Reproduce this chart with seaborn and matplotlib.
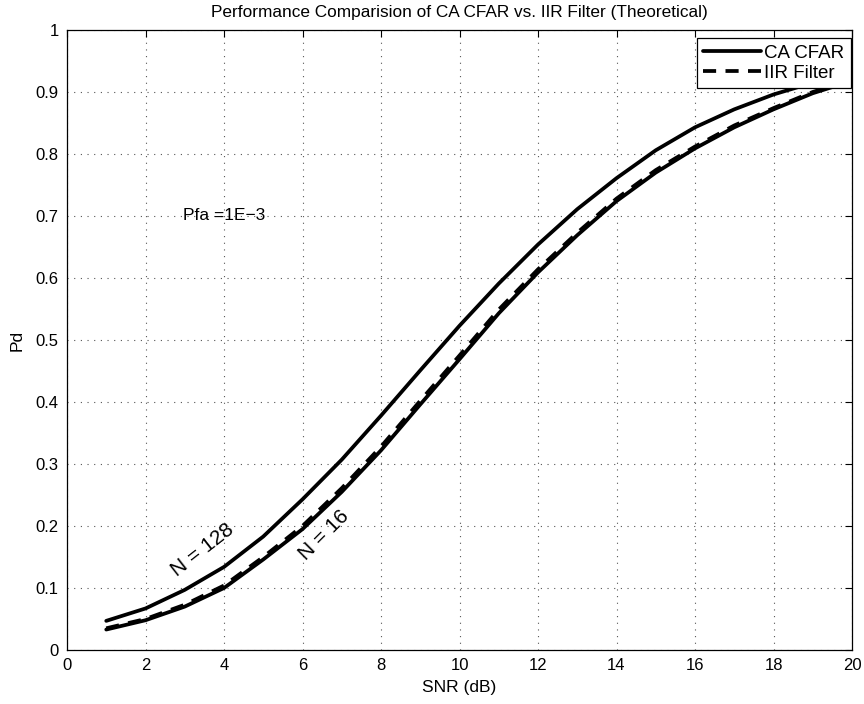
import matplotlib
matplotlib.use("Agg")
import matplotlib.pyplot as plt
import seaborn as sns
import pandas as pd
from matplotlib.lines import Line2D

snr_db = [1, 2, 3, 4, 5, 6, 7, 8, 9, 10, 11, 12, 13, 14, 15, 16, 17, 18, 19, 20]
cfar_n128 = [0.047, 0.067, 0.097, 0.134, 0.183, 0.243, 0.307, 0.378, 0.451, 0.523,
             0.591, 0.654, 0.711, 0.761, 0.806, 0.843, 0.872, 0.896, 0.915, 0.931]
cfar_n16 = [0.033, 0.048, 0.070, 0.100, 0.146, 0.195, 0.255, 0.322, 0.396, 0.469,
            0.543, 0.609, 0.669, 0.724, 0.770, 0.809, 0.843, 0.872, 0.898, 0.918]
iir_n16 = [0.035, 0.050, 0.073, 0.104, 0.150, 0.200, 0.261, 0.328, 0.402, 0.475,
           0.549, 0.614, 0.673, 0.728, 0.774, 0.812, 0.846, 0.874, 0.900, 0.920]

df = pd.DataFrame({"SNR": snr_db, "CA128": cfar_n128, "CA16": cfar_n16, "IIR16": iir_n16})

sns.set_style("white")
plt.rcParams["font.family"] = ["Liberation Sans", "DejaVu Sans"]
plt.rcParams["text.color"] = "black"
plt.rcParams["axes.labelcolor"] = "black"
plt.rcParams["xtick.color"] = "black"
plt.rcParams["ytick.color"] = "black"

fig = plt.figure(figsize=(8.64, 7.04), dpi=100)
ax = fig.add_axes([67/864, 1-650/704, (852-67)/864, (650-30)/704])

lw = 2.7
dash = (0, (3.5, 2.5))
sns.lineplot(data=df, x="SNR", y="CA128", ax=ax, color="black", lw=lw)
sns.lineplot(data=df, x="SNR", y="CA16", ax=ax, color="black", lw=lw)
sns.lineplot(data=df, x="SNR", y="IIR16", ax=ax, color="black", lw=lw, linestyle=dash)

ax.set_xlim(0, 20)
ax.set_ylim(0, 1)
ax.set_xticks(range(0, 21, 2))
ax.set_yticks([i/10 for i in range(11)])
ax.set_yticklabels(["0", "0.1", "0.2", "0.3", "0.4", "0.5", "0.6", "0.7", "0.8", "0.9", "1"])
ax.tick_params(direction="in", length=5, top=True, right=True, labelsize=12, pad=6, width=0.8)
ax.grid(True, linestyle=(0, (1, 5)), color="#555555", lw=0.8)
for s in ax.spines.values():
    s.set_color("black")
    s.set_linewidth(0.9)

ax.set_xlabel("SNR (dB)", fontsize=12.5, labelpad=5)
ax.set_ylabel("Pd", fontsize=12.5, labelpad=8)
ax.set_title("Performance Comparision of CA CFAR vs. IIR Filter (Theoretical)", fontsize=12.4, pad=9)

ax.text(2.95, 0.70, "Pfa =1E\u22123", fontsize=12.5, va="center", ha="left")
ax.text(3.45, 0.162, "N = 128", fontsize=15, rotation=38, ha="center", va="center")
ax.text(6.55, 0.186, "N = 16", fontsize=15, rotation=45, ha="center", va="center")

handles = [Line2D([], [], color="black", lw=lw),
           Line2D([], [], color="black", lw=lw, linestyle=dash)]
leg = ax.legend(handles, ["CA CFAR", "IIR Filter"], loc="upper right", fontsize=13.5,
                frameon=True, fancybox=False, edgecolor="black", framealpha=1,
                borderaxespad=0.0, handlelength=3.1, handletextpad=0.15, borderpad=0.35,
                labelspacing=0.15, bbox_to_anchor=(0.9987, 0.987))
leg.get_frame().set_linewidth(0.9)

fig.savefig("out.png", dpi=100)
